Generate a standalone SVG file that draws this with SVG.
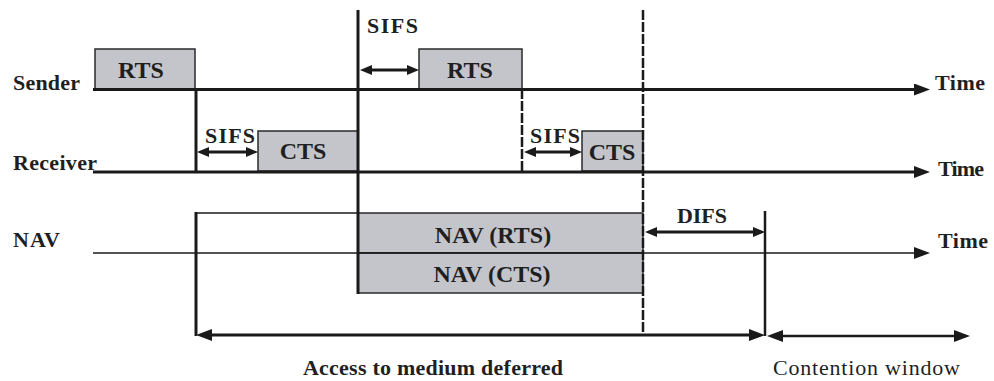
<svg xmlns="http://www.w3.org/2000/svg" width="994" height="381" viewBox="0 0 994 381">
<style>
  text { font-family: 'Liberation Serif', 'Times New Roman', serif; font-weight: bold; fill: #1f1f1f; }
  .lbl { font-size: 22px; }
  .reg { font-weight: normal; }
  .box { font-size: 24px; }
  .frame { fill: #c3c5cb; stroke: #2a2a2a; stroke-width: 1.5; }
  .thick { stroke: #1a1a1a; stroke-width: 3; fill: none; }
  .mid { stroke: #1a1a1a; stroke-width: 2.5; fill: none; }
  .thin { stroke: #1a1a1a; stroke-width: 1.5; fill: none; }
  .dash { stroke: #1a1a1a; stroke-width: 2.5; fill: none; stroke-dasharray: 10 2; }
</style>
<defs>
  <marker id="ah" viewBox="0 0 16 12" refX="0" refY="6" markerWidth="16" markerHeight="12" markerUnits="userSpaceOnUse" orient="auto-start-reverse">
    <path d="M0,0 L16,6 L0,12 z" fill="#1a1a1a"/>
  </marker>
  <marker id="as" viewBox="0 0 12 10" refX="0" refY="5" markerWidth="12" markerHeight="10" markerUnits="userSpaceOnUse" orient="auto-start-reverse">
    <path d="M0,0 L12,5 L0,10 z" fill="#1a1a1a"/>
  </marker>
</defs>
<rect x="0" y="0" width="994" height="381" fill="#ffffff"/>

<g font-family="Liberation Serif, serif">
<g id="rts1">
  <rect class="frame" x="95" y="49" width="100" height="40"/>
  <text class="box" x="141" y="78" text-anchor="middle">RTS</text>
</g>
<g id="rts2">
  <rect class="frame" x="419" y="49" width="103" height="40"/>
  <text class="box" x="470" y="78" text-anchor="middle">RTS</text>
</g>
<g id="cts1">
  <rect class="frame" x="258" y="131" width="100" height="40"/>
  <text class="box" x="303" y="159" text-anchor="middle">CTS</text>
</g>
<g id="cts2">
  <rect class="frame" x="582" y="131" width="61" height="40"/>
  <text class="box" x="612" y="160" text-anchor="middle">CTS</text>
</g>
<g id="nav-rts">
  <rect class="frame" x="358" y="213" width="285" height="40"/>
  <text class="box" x="493" y="243" text-anchor="middle">NAV (RTS)</text>
</g>
<g id="nav-cts">
  <rect class="frame" x="358" y="253" width="285" height="40"/>
  <text class="box" x="492" y="282" text-anchor="middle">NAV (CTS)</text>
</g>

<g id="labels">
  <text class="lbl" x="13" y="90" textLength="67" lengthAdjust="spacing">Sender</text>
  <text class="lbl" x="13" y="170" textLength="84" lengthAdjust="spacing">Receiver</text>
  <text class="lbl" x="13" y="247" textLength="47" lengthAdjust="spacing">NAV</text>
  <text class="lbl" x="935" y="90" textLength="50" lengthAdjust="spacing">Time</text>
  <text class="lbl" x="938" y="176" textLength="46" lengthAdjust="spacing">Time</text>
  <text class="lbl" x="938" y="248" textLength="50" lengthAdjust="spacing">Time</text>
  <text class="lbl" x="367" y="33" textLength="51" lengthAdjust="spacing">SIFS</text>
  <text class="lbl" x="205" y="143" textLength="50" lengthAdjust="spacing">SIFS</text>
  <text class="lbl" x="530" y="143" textLength="50" lengthAdjust="spacing">SIFS</text>
  <text class="lbl" x="677" y="223" textLength="50" lengthAdjust="spacing">DIFS</text>
  <text class="lbl" x="303" y="375" textLength="260" lengthAdjust="spacing">Access to medium deferred</text>
  <text class="lbl reg" x="773" y="375" textLength="187" lengthAdjust="spacing">Contention window</text>
</g>
</g>

<g id="connectors">
  <line class="thick" x1="93" y1="89.5" x2="914" y2="89.5" marker-end="url(#ah)"/>
  <line class="thick" x1="93" y1="172" x2="914" y2="172" marker-end="url(#ah)"/>
  <line class="thin" x1="93" y1="253" x2="914" y2="253" marker-end="url(#ah)"/>
  <line class="thick" x1="196" y1="89" x2="196" y2="172"/>
  <line class="thick" x1="196" y1="212" x2="196" y2="336"/>
  <line class="thin" x1="196" y1="213" x2="358" y2="213"/>
  <line class="thick" x1="358" y1="10" x2="358" y2="294"/>
  <line class="dash" x1="522" y1="89" x2="522" y2="172" stroke-width="2" stroke-dasharray="5 2"/>
  <line class="dash" x1="643" y1="10" x2="643" y2="334"/>
  <line class="mid" x1="765" y1="211" x2="765" y2="336"/>
  <line class="thick" x1="209" y1="152" x2="246" y2="152" marker-start="url(#as)" marker-end="url(#as)"/>
  <line class="thick" x1="372" y1="70" x2="407" y2="70" marker-start="url(#as)" marker-end="url(#as)"/>
  <line class="thick" x1="536" y1="152" x2="570" y2="152" marker-start="url(#as)" marker-end="url(#as)"/>
  <line class="thick" x1="657" y1="232" x2="753" y2="232" marker-start="url(#as)" marker-end="url(#as)"/>
  <line class="thick" x1="212" y1="335" x2="749" y2="335" marker-start="url(#ah)" marker-end="url(#ah)"/>
  <line class="mid" x1="783" y1="336" x2="954" y2="336" marker-start="url(#ah)" marker-end="url(#ah)"/>
</g>
</svg>
